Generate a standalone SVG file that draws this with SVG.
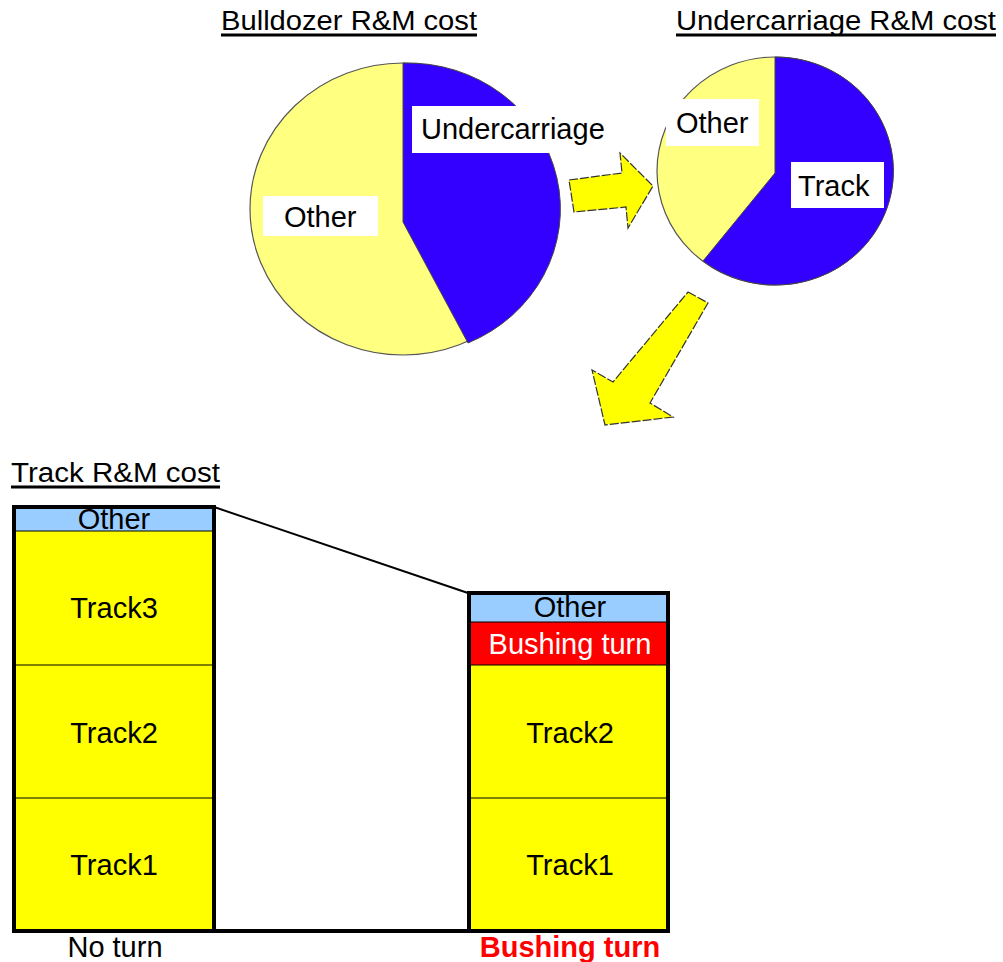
<svg xmlns="http://www.w3.org/2000/svg" width="1003" height="962" viewBox="0 0 1003 962">
<style>
text{font-family:"Liberation Sans",Arial,sans-serif;font-size:29px;fill:#000}
.title{font-size:27px}
.ul{stroke:#000;stroke-width:3}
.mid{text-anchor:middle}
.pie-o{fill:#FFFF80;stroke:#555;stroke-width:1.2}
.pie-b{fill:#3300FF;stroke:#444;stroke-width:1}
.lbl{fill:#fff}
.arrow{fill:#FFFF00;stroke:#333;stroke-width:1.2;stroke-dasharray:9 2}
.box{fill:none;stroke:#000;stroke-width:4}
.sep{stroke:#000;stroke-width:1.2}
.other{fill:#99CCFF}
.trk{fill:#FFFF00}
.bush{fill:#FF0000}
</style>
<g id="titles">
<text class="title" x="221" y="30" textLength="256" lengthAdjust="spacingAndGlyphs">Bulldozer R&amp;M cost</text>
<line class="ul" x1="221" y1="35" x2="477" y2="35"/>
<text class="title" x="676" y="30" textLength="320" lengthAdjust="spacingAndGlyphs">Undercarriage R&amp;M cost</text>
<line class="ul" x1="676" y1="35" x2="996" y2="35"/>
<text class="title" x="11" y="482" textLength="209" lengthAdjust="spacingAndGlyphs">Track R&amp;M cost</text>
<line class="ul" x1="11" y1="487" x2="220" y2="487"/>
</g>
<g id="bulldozer-pie">
<ellipse class="pie-o" cx="403" cy="209" rx="153" ry="146"/>
<path class="pie-b" d="M403,222 L403,63 A153,146 0 0 1 468,343 Z"/>
<rect class="lbl" x="412" y="106" width="203" height="47"/>
<text x="421" y="139">Undercarriage</text>
<rect class="lbl" x="263" y="196" width="115" height="40"/>
<text x="284" y="227">Other</text>
</g>
<g id="undercarriage-pie">
<ellipse class="pie-o" cx="775" cy="171" rx="118" ry="114"/>
<path class="pie-b" d="M775,173 L775,57 A118,114 0 1 1 703,261 Z"/>
<rect class="lbl" x="666" y="99" width="93" height="47"/>
<text x="676" y="133">Other</text>
<rect class="lbl" x="791" y="162" width="93" height="46"/>
<text x="798" y="196">Track</text>
</g>
<g id="connectors">
<polygon class="arrow" points="569,180 622,173 620,153 653,186 628,228 626,207 574,212"/>
<polygon class="arrow" points="688,292 708,303 650,403 673,417 605,425 592,370 613,382"/>
<line x1="214" y1="507" x2="468" y2="593" stroke="#000" stroke-width="2"/>
</g>
<g id="bar-noturn">
<rect class="other" x="14" y="507" width="200" height="24"/>
<rect class="trk" x="14" y="531" width="200" height="400"/>
<line class="sep" x1="14" y1="531" x2="214" y2="531"/>
<line class="sep" x1="14" y1="665" x2="214" y2="665"/>
<line class="sep" x1="14" y1="798" x2="214" y2="798"/>
<rect class="box" x="14" y="507" width="200" height="424"/>
<text class="mid" x="114" y="529">Other</text>
<text class="mid" x="114" y="618">Track3</text>
<text class="mid" x="114" y="743">Track2</text>
<text class="mid" x="114" y="875">Track1</text>
</g>
<g id="bar-bushing">
<rect class="other" x="469" y="593" width="199" height="29"/>
<rect class="bush" x="469" y="622" width="199" height="43"/>
<rect class="trk" x="469" y="665" width="199" height="266"/>
<line class="sep" x1="469" y1="622" x2="668" y2="622"/>
<line class="sep" x1="469" y1="665" x2="668" y2="665"/>
<line class="sep" x1="469" y1="798" x2="668" y2="798"/>
<rect class="box" x="469" y="593" width="199" height="338"/>
<text class="mid" x="570" y="617">Other</text>
<text class="mid" x="570" y="654" style="fill:#fff">Bushing turn</text>
<text class="mid" x="570" y="743">Track2</text>
<text class="mid" x="570" y="875">Track1</text>
</g>
<g id="baseline">
<line x1="12" y1="931" x2="670" y2="931" stroke="#000" stroke-width="4"/>
<text class="mid" x="115" y="957">No turn</text>
<text class="mid" x="570" y="957" style="fill:#FF0000;font-weight:bold">Bushing turn</text>
</g>
</svg>
